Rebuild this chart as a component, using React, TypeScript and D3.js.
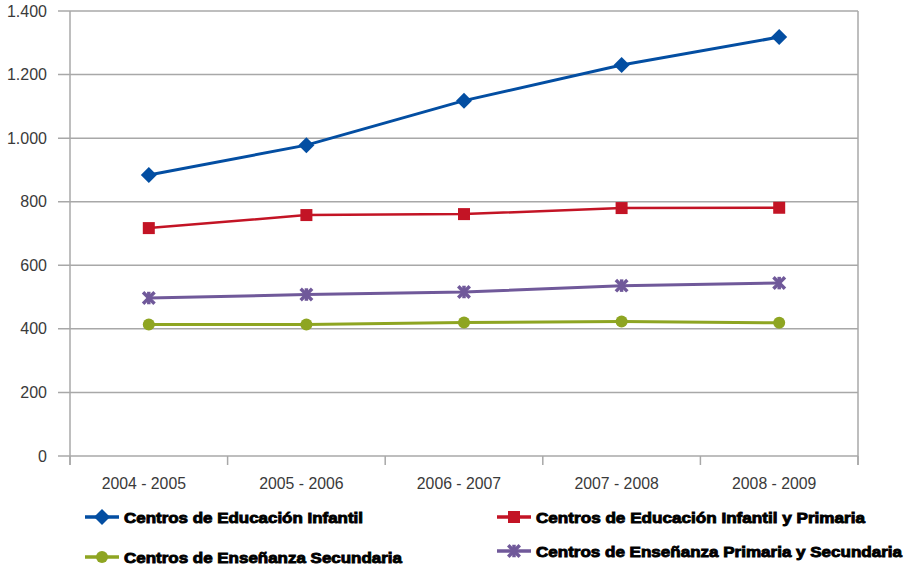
import React from "react";
import * as d3 from "d3";

const categories = ["2004 - 2005", "2005 - 2006", "2006 - 2007", "2007 - 2008", "2008 - 2009"];
const infantil = [884, 978, 1118, 1230, 1318];
const infantilPrimaria = [717, 758, 761, 780, 781];
const primariaSecundaria = [497, 508, 516, 536, 544];
const secundaria = [414, 414, 420, 423, 419];
const yTicks = [0, 200, 400, 600, 800, 1000, 1200, 1400];

const seriesNames = [
  "Centros de Educación Infantil",
  "Centros de Educación Infantil y Primaria",
  "Centros de Enseñanza Secundaria",
  "Centros de Enseñanza Primaria y Secundaria",
];

const W = 909, H = 570;
const L = 70, R = 858, T = 11, B = 456;

const fmt = (v: number) => {
  const s = String(v);
  return s.length > 3 ? s.slice(0, s.length - 3) + "." + s.slice(-3) : s;
};

function Marker({ kind, x, y, color }: { kind: string; x: number; y: number; color: string }) {
  if (kind === "diamond") {
    const s = 8;
    return <path d={`M${x},${y - s}L${x + s},${y}L${x},${y + s}L${x - s},${y}Z`} fill={color} />;
  }
  if (kind === "square") {
    return <rect x={x - 6} y={y - 6} width={12} height={12} fill={color} />;
  }
  if (kind === "circle") {
    return <circle cx={x} cy={y} r={6} fill={color} />;
  }
  const s = 4.5;
  return (
    <g stroke={color} strokeWidth={3.5} strokeLinecap="square">
      <line x1={x - s} y1={y - s} x2={x + s} y2={y + s} />
      <line x1={x - s} y1={y + s} x2={x + s} y2={y - s} />
      <line x1={x} y1={y - s} x2={x} y2={y + s} />
    </g>
  );
}

export default function App() {
  const x = d3.scaleBand().domain(categories).range([L, R]).padding(0);
  const y = d3.scaleLinear().domain([0, 1400]).range([B, T]);
  const cx = (c: string) => (x(c) as number) + x.bandwidth() / 2;

  const series = [
    { name: seriesNames[0], data: infantil, color: "#034ea2", kind: "diamond", w: 3 },
    { name: seriesNames[1], data: infantilPrimaria, color: "#c31425", kind: "square", w: 2.5 },
    { name: seriesNames[2], data: secundaria, color: "#8ea522", kind: "circle", w: 3 },
    { name: seriesNames[3], data: primariaSecundaria, color: "#70599a", kind: "star", w: 3 },
  ];

  const line = d3.line<number>().x((_, i) => cx(categories[i])).y((d) => y(d));

  const legendPos = [
    { lx: 85, ly: 517, tw: 239 },
    { lx: 497, ly: 517, tw: 329 },
    { lx: 85, ly: 557, tw: 278 },
    { lx: 497, ly: 551, tw: 366 },
  ];

  const boundaries = [...categories.map((c) => x(c) as number), R];

  return (
    <svg width={W} height={H} style={{ position: "absolute", left: 0, top: 0, background: "#fff" }}>
      {yTicks.map((t) => (
        <line key={t} x1={58} x2={R} y1={y(t)} y2={y(t)} stroke="#a8a8a8" strokeWidth={1.5} />
      ))}
      <line x1={L} x2={L} y1={T} y2={B + 9} stroke="#a8a8a8" strokeWidth={1.5} />
      <line x1={R} x2={R} y1={T} y2={B + 9} stroke="#a8a8a8" strokeWidth={1.5} />
      {boundaries.map((b, i) => (
        <line key={i} x1={b} x2={b} y1={B} y2={B + 9} stroke="#a8a8a8" strokeWidth={1.5} />
      ))}
      {yTicks.map((t) => (
        <text key={t} x={47} y={y(t) + 5.5} textAnchor="end" fontFamily="Liberation Sans, Arial, sans-serif" fontSize={16} fill="#3a3a3a">
          {fmt(t)}
        </text>
      ))}
      {categories.map((c) => (
        <text key={c} x={cx(c) - 5} y={489} textAnchor="middle" fontFamily="Liberation Sans, Arial, sans-serif" fontSize={15.8} fill="#3a3a3a">
          {c}
        </text>
      ))}
      {series.map((s) => (
        <g key={s.name}>
          <path d={line(s.data) || ""} fill="none" stroke={s.color} strokeWidth={s.w} />
          {s.data.map((v, i) => (
            <Marker key={i} kind={s.kind} x={cx(categories[i])} y={y(v)} color={s.color} />
          ))}
        </g>
      ))}
      {series.map((s, i) => {
        const p = legendPos[i];
        return (
          <g key={s.name}>
            <line x1={p.lx} x2={p.lx + 34} y1={p.ly} y2={p.ly} stroke={s.color} strokeWidth={3.5} />
            <Marker kind={s.kind} x={p.lx + 17} y={p.ly} color={s.color} />
            <text x={p.lx + 39} y={p.ly + 5.5} fontFamily="Liberation Sans, Arial, sans-serif" fontWeight="bold" fontSize={15} fill="#000" stroke="#000" strokeWidth={0.9} textLength={p.tw} lengthAdjust="spacingAndGlyphs">
              {s.name}
            </text>
          </g>
        );
      })}
    </svg>
  );
}
